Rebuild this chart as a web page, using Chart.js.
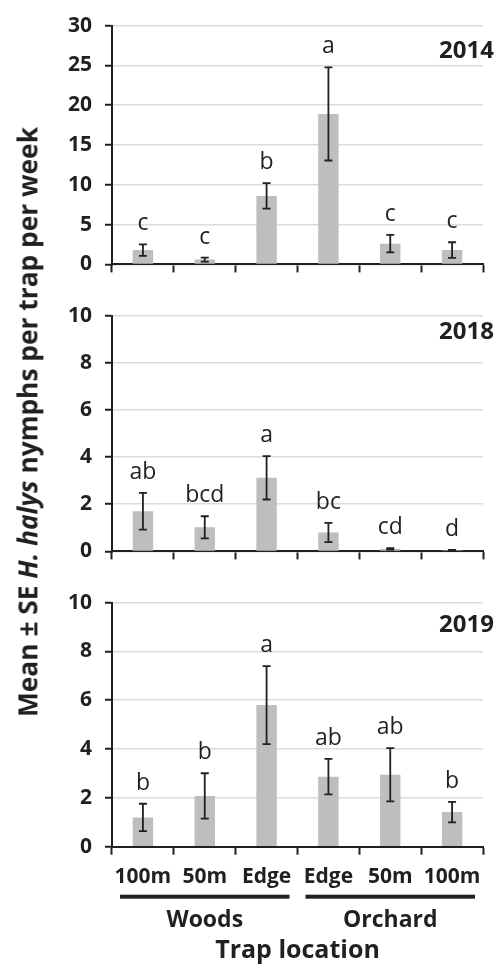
<!DOCTYPE html>
<html>
<head>
<meta charset="utf-8">
<script src="https://cdn.jsdelivr.net/npm/chart.js@4.4.1/dist/chart.umd.min.js"></script>
<style>
  html, body { margin: 0; padding: 0; background: #ffffff; }
  #wrap { position: relative; width: 502px; height: 972px; overflow: hidden; background: #fff; font-family: "Open Sans", sans-serif; }
  canvas { position: absolute; left: 0; }
  #ytitle { position: absolute; left: 28px; top: 422px; white-space: nowrap; font-weight: bold; font-size: 26px; line-height: 1.2; color: #231f20; transform-origin: 0 0; }
</style>
</head>
<body>
<div id="wrap">
  <canvas id="c1" width="502" height="290" style="top:0px"></canvas>
  <canvas id="c2" width="502" height="287" style="top:290px"></canvas>
  <canvas id="c3" width="502" height="395" style="top:577px"></canvas>
  <div id="ytitle">Mean ± SE <i>H. halys</i> nymphs per trap per week</div>
</div>
<script>
// ---------------- data ----------------
const categories = ['100m', '50m', 'Edge', 'Edge', '50m', '100m'];
const groups = ['Woods', 'Orchard'];
const xTitle = 'Trap location';
const years = ['2014', '2018', '2019'];

const means2014 = [1.8, 0.6, 8.6, 18.9, 2.6, 1.8];
const se2014 = [0.72, 0.25, 1.6, 5.85, 1.1, 0.98];
const letters2014 = ['c', 'c', 'b', 'a', 'c', 'c'];

const means2018 = [1.7, 1.02, 3.12, 0.8, 0.11, 0.05];
const se2018 = [0.78, 0.47, 0.92, 0.41, 0.03, 0.01];
const letters2018 = ['ab', 'bcd', 'a', 'bc', 'cd', 'd'];

const means2019 = [1.2, 2.08, 5.8, 2.87, 2.95, 1.42];
const se2019 = [0.56, 0.93, 1.6, 0.73, 1.09, 0.42];
const letters2019 = ['b', 'b', 'a', 'ab', 'ab', 'b'];

const yMaxes = [30, 10, 10];
const ySteps = [5, 2, 2];

// ---------------- styles ----------------
const INK = '#231f20';
const BAR = '#bcbec0';
const GRID = '#dcdcdc';
const FONT = '"Open Sans", sans-serif';

Chart.defaults.font.family = FONT;
Chart.defaults.color = INK;

const annot = {
  id: 'annot',
  afterDatasetsDraw(chart, args, o) {
    const ctx = chart.ctx;
    const meta = chart.getDatasetMeta(0);
    const ys = chart.scales.y;
    const ds = chart.data.datasets[0];
    ctx.save();
    meta.data.forEach((bar, i) => {
      const m = ds.data[i], e = o.se[i];
      const yt = ys.getPixelForValue(m + e);
      const yb = ys.getPixelForValue(Math.max(0, m - e));
      ctx.strokeStyle = INK;
      ctx.lineWidth = 1.8;
      ctx.beginPath();
      ctx.moveTo(bar.x, yt); ctx.lineTo(bar.x, yb);
      ctx.moveTo(bar.x - 4, yt); ctx.lineTo(bar.x + 4, yt);
      ctx.moveTo(bar.x - 4, yb); ctx.lineTo(bar.x + 4, yb);
      ctx.stroke();
      ctx.fillStyle = INK;
      ctx.font = '23px ' + FONT;
      ctx.textAlign = 'center';
      ctx.textBaseline = 'alphabetic';
      ctx.fillText(o.letters[i], bar.x, yt - 14);
    });
    ctx.font = 'bold 24px ' + FONT;
    ctx.textAlign = 'right';
    ctx.textBaseline = 'alphabetic';
    ctx.fillStyle = INK;
    ctx.fillText(o.year, chart.chartArea.right + 11, chart.chartArea.top + o.yearDy);
    ctx.restore();
  }
};

const groupPlugin = {
  id: 'groupLabels',
  afterDraw(chart, args, o) {
    if (!o || !o.show) return;
    const ctx = chart.ctx;
    const xs = chart.scales.x;
    const bottom = chart.chartArea.bottom;
    const w = (xs.right - xs.left) / categories.length;
    const n = categories.length / groups.length;
    ctx.save();
    ctx.fillStyle = INK;
    ctx.font = 'bold 23px ' + FONT;
    ctx.textAlign = 'center';
    ctx.textBaseline = 'alphabetic';
    groups.forEach((g, k) => {
      const x0 = xs.left + k * n * w + 8;
      const x1 = xs.left + (k + 1) * n * w - 8;
      ctx.fillRect(x0, bottom + 48, x1 - x0, 4);
      ctx.fillText(g, (x0 + x1) / 2, bottom + 80);
    });
    ctx.restore();
  }
};

function makePanel(id, values, se, letters, year, yMax, yStep, cfg) {
  new Chart(document.getElementById(id), {
    type: 'bar',
    data: {
      labels: categories,
      datasets: [{
        data: values,
        backgroundColor: BAR,
        borderWidth: 0,
        categoryPercentage: 0.33,
        barPercentage: 1.0
      }]
    },
    options: {
      responsive: false,
      animation: false,
      devicePixelRatio: 1,
      layout: { padding: { top: cfg.padTop, left: 0, right: 19, bottom: 0 } },
      plugins: {
        legend: { display: false },
        tooltip: { enabled: false },
        annot: { se: se, letters: letters, year: year, yearDy: cfg.yearDy },
        groupLabels: { show: cfg.showX }
      },
      scales: {
        x: {
          offset: true,
          grid: { display: true, drawOnChartArea: false, offset: true, tickLength: 8, tickColor: INK, tickWidth: 2 },
          border: { display: true, color: INK, width: 2 },
          ticks: { display: cfg.showX, padding: 10, color: INK, maxRotation: 0, minRotation: 0, autoSkip: false, font: { size: 21, weight: 'bold' } },
          title: { display: cfg.showX, text: xTitle, color: INK, font: { size: 25, weight: 'bold' }, padding: { top: 0, bottom: 6 } },
          afterFit(s) { s.height = cfg.xHeight; }
        },
        y: {
          min: 0, max: yMax,
          ticks: { stepSize: yStep, padding: 13, color: INK, font: { size: 21, weight: 'bold' } },
          grid: { color: GRID, lineWidth: 1.5, tickLength: 7, tickColor: INK, tickWidth: 2 },
          border: { display: true, color: INK, width: 2 },
          afterFit(s) { s.width = 112; }
        }
      }
    },
    plugins: [annot, groupPlugin]
  });
}

makePanel('c1', means2014, se2014, letters2014, years[0], yMaxes[0], ySteps[0], { padTop: 17.7, xHeight: 15.7, yearDy: 32, showX: false });
makePanel('c2', means2018, se2018, letters2018, years[1], yMaxes[1], ySteps[1], { padTop: 14, xHeight: 16, yearDy: 23, showX: false });
makePanel('c3', means2019, se2019, letters2019, years[2], yMaxes[2], ySteps[2], { padTop: 13, xHeight: 125.3, yearDy: 29, showX: true });

const yt = document.getElementById('ytitle');
const sc = 590 / yt.offsetWidth;
yt.style.transform = 'rotate(-90deg) scaleX(' + sc + ') translate(-50%, -50%)';
</script>
</body>
</html>
